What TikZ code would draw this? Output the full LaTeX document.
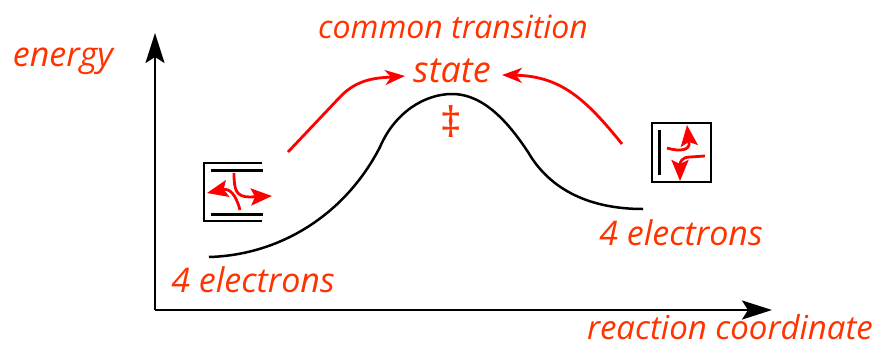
\documentclass[tikz,border=0pt]{standalone}
\usepackage{fontspec}
\usepackage{xcolor}
\usetikzlibrary{arrows.meta}
\setmainfont{Open Sans}
\definecolor{labelred}{HTML}{FF3300}
\definecolor{arrowred}{HTML}{FF0000}
\tikzset{
  label/.style={text=labelred,font=\fontsize{34}{34}\selectfont\itshape,inner sep=0pt,anchor=base},
  axisarr/.style={-{Stealth[length=30pt,width=19pt,inset=6pt]},line width=2pt,draw=black},
  redarr/.style={-{Stealth[length=20pt,width=15pt,inset=6pt]},line width=2.8pt,draw=arrowred},
  smallarr/.style={-{Stealth[length=21pt,width=17pt,inset=4pt]},line width=2.8pt,draw=arrowred},
  orbital/.style={line width=3pt,draw=black},
  mobox/.style={line width=2.5pt,draw=black}
}
\begin{document}
\begin{tikzpicture}[x=1pt,y=-1pt]
    \useasboundingbox (0,0) rectangle (880,346);

    \coordinate (origin) at (155,310);
    \coordinate (ytop) at (155,33);
    \coordinate (xend) at (772,310);
    \draw[axisarr] (origin) -- (ytop);
    \draw[axisarr] (origin) -- (xend);

    \node[label] (energy) at (63,66) {energy};
    \node[label,font=\fontsize{32}{32}\selectfont\itshape] (common) at (453,38) {common transition};
    \node[label,font=\fontsize{36}{36}\selectfont\itshape] (state) at (452,82) {state};
    \node[label,anchor=center,font=\fontsize{42}{42}\selectfont] (dagger) at (451,122) {\ddag};
    \node[label] (leftcount) at (253,292) {4 electrons};
    \node[label] (rightcount) at (681,245) {4 electrons};
    \node[label,font=\fontsize{33}{33}\selectfont\itshape] (xlabel) at (730,339) {reaction coordinate};

    % energy profile
    \draw[line width=2.5pt] (209,257) .. controls (280,255) and (345,215) .. (380,147)
      .. controls (395,112) and (425,94) .. (452,94)
      .. controls (485,94) and (510,125) .. (528,152)
      .. controls (550,190) and (590,209) .. (643,209);

    % arrows to the transition state
    \coordinate (leftstart) at (288,152);
    \coordinate (lefttip) at (405,76);
    \coordinate (rightstart) at (622,144);
    \coordinate (righttip) at (502,75);
    \draw[redarr] (leftstart) -- (340,97) .. controls (358,78) and (378,78) .. (lefttip);
    \draw[redarr] (rightstart) .. controls (585,98) and (560,76) .. (righttip);

    % left box
    \draw[mobox] (262,163) -- (204,163) -- (204,221) -- (262,221);
    \draw[orbital] (211,170) -- (263,170);
    \draw[orbital] (211,214) -- (263,214);
    \draw[smallarr] (234,173) .. controls (234,190) and (236,197) .. (250,197) -- (272,196);
    \draw[smallarr] (240,210) .. controls (236,195) and (230,188) .. (207,193);

    % right box
    \draw[mobox] (652,123) rectangle (711,182);
    \draw[orbital] (659,130) -- (659,175);
    \draw[smallarr] (667,148) .. controls (680,152) and (690,150) .. (689,143) -- (687,125);
    \draw[smallarr] (705,156) -- (690,157) .. controls (682,157) and (680,162) .. (680,181);
  \end{tikzpicture}
\end{document}
